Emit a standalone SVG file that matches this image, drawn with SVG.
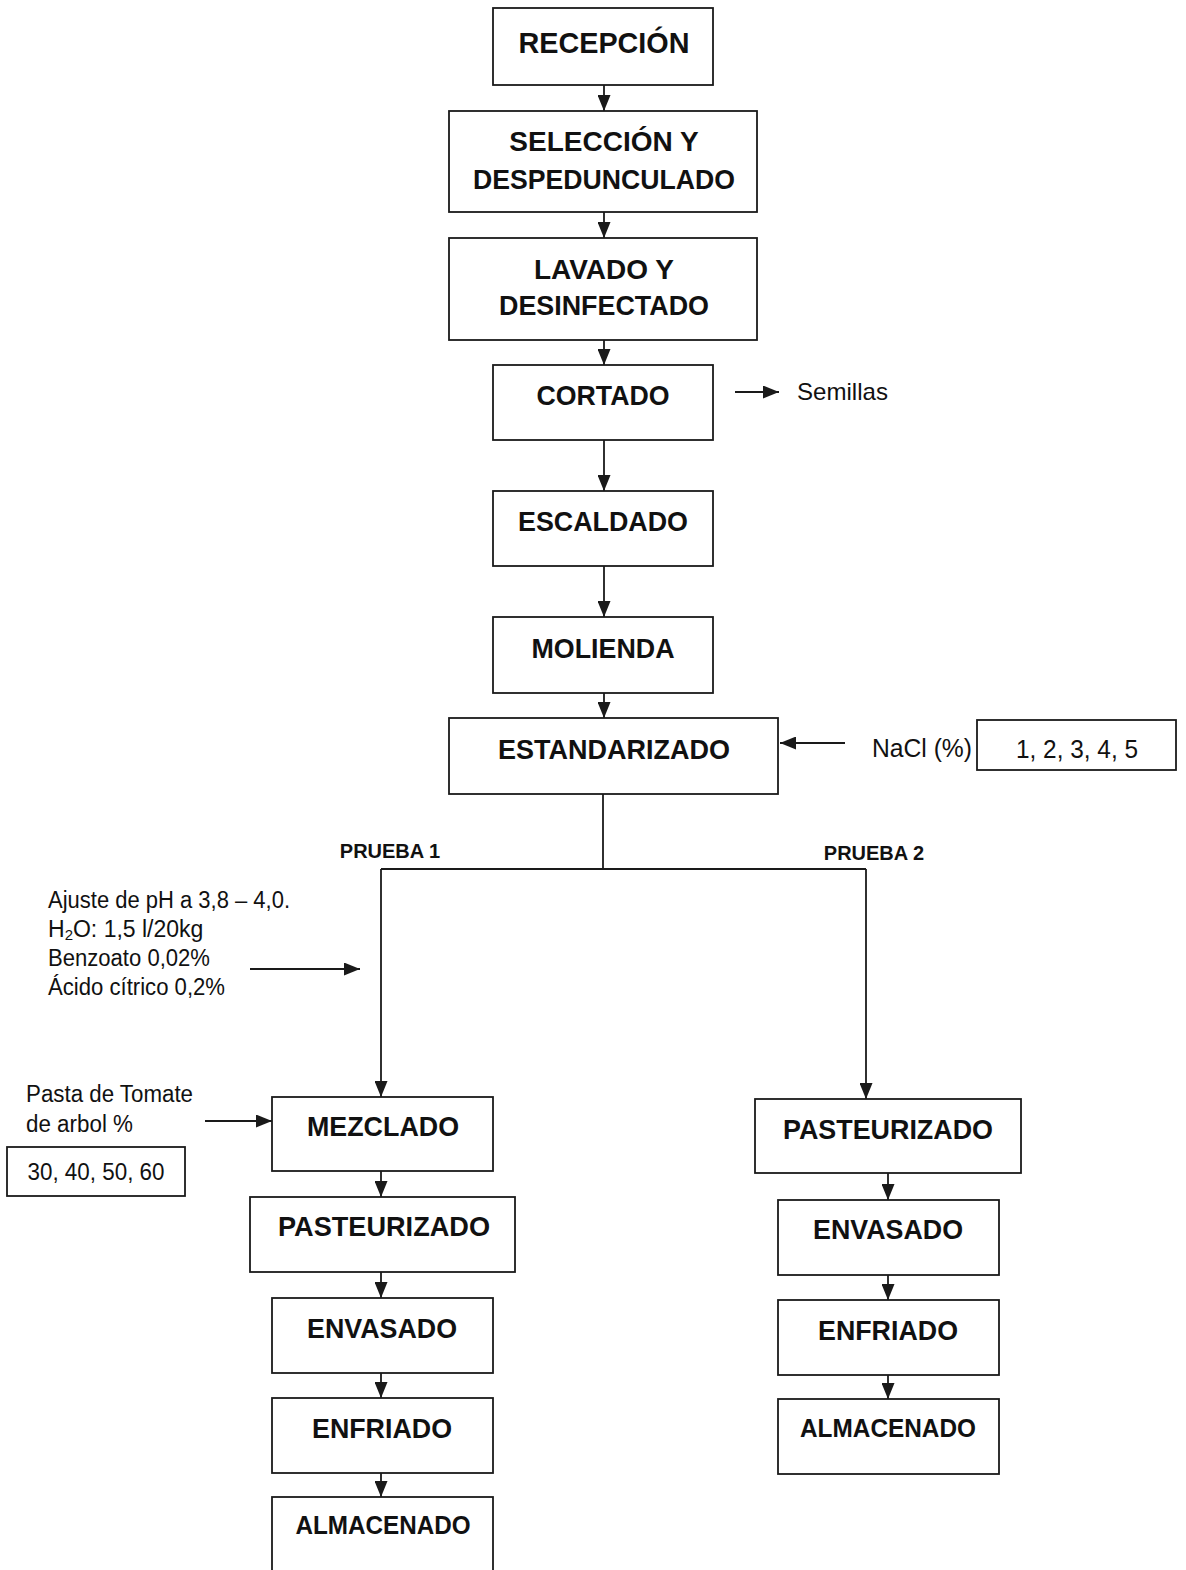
<svg xmlns="http://www.w3.org/2000/svg" width="1186" height="1570" viewBox="0 0 1186 1570">
<defs>
<style>
.box{fill:#fff;stroke:#1a1a1a;stroke-width:1.8}
.t{font-family:"Liberation Sans",Arial,sans-serif;font-weight:bold;fill:#111;text-anchor:middle}
.r{font-family:"Liberation Sans",Arial,sans-serif;fill:#111}
.c{stroke:#1a1a1a;stroke-width:1.8;fill:none}
.a{stroke:#1a1a1a;stroke-width:1.8;fill:none;marker-end:url(#ah)}
</style>
<marker id="ah" viewBox="0 0 16 13" refX="16" refY="6.5" markerWidth="16" markerHeight="13" markerUnits="userSpaceOnUse" orient="auto"><path d="M0,0 L16,6.5 L0,13 z" fill="#1a1a1a"/></marker>
</defs>
<rect width="1186" height="1570" fill="#fff"/>
<g id="connectors">
<line class="a" x1="604" y1="85" x2="604" y2="111"/>
<line class="a" x1="604" y1="212" x2="604" y2="238"/>
<line class="a" x1="604" y1="340" x2="604" y2="365"/>
<line class="a" x1="604" y1="440" x2="604" y2="491"/>
<line class="a" x1="604" y1="566" x2="604" y2="617"/>
<line class="a" x1="604" y1="693" x2="604" y2="718"/>
<line class="a" x1="735" y1="392" x2="779" y2="392"/>
<line class="a" x1="845" y1="743" x2="780" y2="743"/>
<polyline class="c" points="603,794 603,869"/>
<line class="c" x1="381" y1="869" x2="866" y2="869"/>
<line class="a" x1="381" y1="869" x2="381" y2="1097"/>
<line class="a" x1="866" y1="869" x2="866" y2="1099"/>
<line class="a" x1="250" y1="969" x2="360" y2="969"/>
<line class="a" x1="205" y1="1121" x2="272" y2="1121"/>
<line class="a" x1="381" y1="1171" x2="381" y2="1197"/>
<line class="a" x1="381" y1="1272" x2="381" y2="1298"/>
<line class="a" x1="381" y1="1373" x2="381" y2="1398"/>
<line class="a" x1="381" y1="1473" x2="381" y2="1497"/>
<line class="a" x1="888" y1="1173" x2="888" y2="1200"/>
<line class="a" x1="888" y1="1275" x2="888" y2="1300"/>
<line class="a" x1="888" y1="1375" x2="888" y2="1399"/>
</g>
<g id="recepcion"><rect class="box" x="493" y="8" width="220" height="77"/><text class="t" x="604" y="53" font-size="30" textLength="171" lengthAdjust="spacingAndGlyphs">RECEPCIÓN</text></g>
<g id="seleccion"><rect class="box" x="449" y="111" width="308" height="101"/><text class="t" x="604" y="151" font-size="28">SELECCIÓN Y</text><text class="t" x="604" y="189" font-size="28" textLength="262" lengthAdjust="spacingAndGlyphs">DESPEDUNCULADO</text></g>
<g id="lavado"><rect class="box" x="449" y="238" width="308" height="102"/><text class="t" x="604" y="279" font-size="28">LAVADO Y</text><text class="t" x="604" y="315" font-size="28" textLength="210" lengthAdjust="spacingAndGlyphs">DESINFECTADO</text></g>
<g id="cortado"><rect class="box" x="493" y="365" width="220" height="75"/><text class="t" x="603" y="405" font-size="28" textLength="133" lengthAdjust="spacingAndGlyphs">CORTADO</text></g>
<g id="semillas"><text class="r" x="797" y="400" font-size="24" textLength="91" lengthAdjust="spacingAndGlyphs">Semillas</text></g>
<g id="escaldado"><rect class="box" x="493" y="491" width="220" height="75"/><text class="t" x="603" y="531" font-size="28" textLength="170" lengthAdjust="spacingAndGlyphs">ESCALDADO</text></g>
<g id="molienda"><rect class="box" x="493" y="617" width="220" height="76"/><text class="t" x="603" y="658" font-size="28" textLength="143" lengthAdjust="spacingAndGlyphs">MOLIENDA</text></g>
<g id="estandarizado"><rect class="box" x="449" y="718" width="329" height="76"/><text class="t" x="614" y="759" font-size="28" textLength="232" lengthAdjust="spacingAndGlyphs">ESTANDARIZADO</text></g>
<g id="nacl"><text class="r" x="872" y="757" font-size="25" textLength="100" lengthAdjust="spacingAndGlyphs">NaCl (%)</text></g>
<g id="nacl-valores"><rect class="box" x="977" y="720" width="199" height="50"/><text class="r" x="1077" y="758" font-size="25" text-anchor="middle" textLength="122" lengthAdjust="spacingAndGlyphs">1, 2, 3, 4, 5</text></g>
<g id="prueba1"><text class="t" x="390" y="858" font-size="20">PRUEBA 1</text></g>
<g id="prueba2"><text class="t" x="874" y="860" font-size="20">PRUEBA 2</text></g>
<g id="ajuste"><text class="r" font-size="23"><tspan x="48" y="908" textLength="242" lengthAdjust="spacingAndGlyphs">Ajuste de pH a 3,8 – 4,0.</tspan><tspan x="48" y="937">H<tspan font-size="15" dy="3">2</tspan><tspan dy="-3">O: 1,5 l/20kg</tspan></tspan><tspan x="48" y="966" textLength="162" lengthAdjust="spacingAndGlyphs">Benzoato 0,02%</tspan><tspan x="48" y="995" textLength="177" lengthAdjust="spacingAndGlyphs">Ácido cítrico 0,2%</tspan></text></g>
<g id="pasta"><text class="r" font-size="23"><tspan x="26" y="1102" textLength="167" lengthAdjust="spacingAndGlyphs">Pasta de Tomate</tspan><tspan x="26" y="1132" textLength="107" lengthAdjust="spacingAndGlyphs">de arbol %</tspan></text></g>
<g id="pasta-valores"><rect class="box" x="7" y="1147" width="178" height="49"/><text class="r" x="96" y="1180" font-size="23" text-anchor="middle" textLength="137" lengthAdjust="spacingAndGlyphs">30, 40, 50, 60</text></g>
<g id="mezclado"><rect class="box" x="272" y="1097" width="221" height="74"/><text class="t" x="383" y="1136" font-size="28" textLength="152" lengthAdjust="spacingAndGlyphs">MEZCLADO</text></g>
<g id="pasteurizado1"><rect class="box" x="250" y="1197" width="265" height="75"/><text class="t" x="384" y="1236" font-size="28" textLength="212" lengthAdjust="spacingAndGlyphs">PASTEURIZADO</text></g>
<g id="envasado1"><rect class="box" x="272" y="1298" width="221" height="75"/><text class="t" x="382" y="1338" font-size="28" textLength="150" lengthAdjust="spacingAndGlyphs">ENVASADO</text></g>
<g id="enfriado1"><rect class="box" x="272" y="1398" width="221" height="75"/><text class="t" x="382" y="1438" font-size="28" textLength="140" lengthAdjust="spacingAndGlyphs">ENFRIADO</text></g>
<g id="almacenado1"><rect class="box" x="272" y="1497" width="221" height="80"/><text class="t" x="383" y="1534" font-size="25" textLength="175" lengthAdjust="spacingAndGlyphs">ALMACENADO</text></g>
<g id="pasteurizado2"><rect class="box" x="755" y="1099" width="266" height="74"/><text class="t" x="888" y="1139" font-size="28" textLength="210" lengthAdjust="spacingAndGlyphs">PASTEURIZADO</text></g>
<g id="envasado2"><rect class="box" x="778" y="1200" width="221" height="75"/><text class="t" x="888" y="1239" font-size="28" textLength="150" lengthAdjust="spacingAndGlyphs">ENVASADO</text></g>
<g id="enfriado2"><rect class="box" x="778" y="1300" width="221" height="75"/><text class="t" x="888" y="1340" font-size="28" textLength="140" lengthAdjust="spacingAndGlyphs">ENFRIADO</text></g>
<g id="almacenado2"><rect class="box" x="778" y="1399" width="221" height="75"/><text class="t" x="888" y="1437" font-size="25" textLength="176" lengthAdjust="spacingAndGlyphs">ALMACENADO</text></g>
</svg>
